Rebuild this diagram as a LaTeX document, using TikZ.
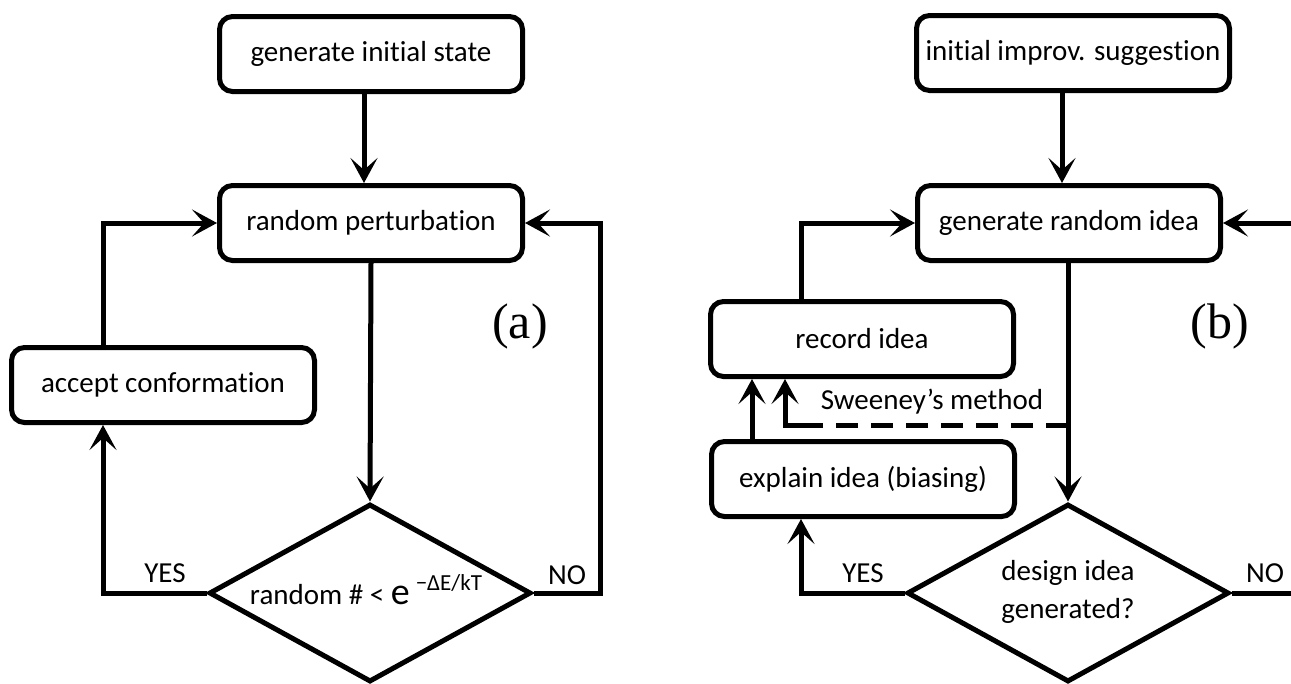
\documentclass[tikz,border=0pt]{standalone}
\usepackage{fontspec}
\setmainfont{Carlito}[Ligatures={NoCommon,NoRequired,NoContextual}, Contextuals=NoAlternate]
\newfontfamily\panelfont{Liberation Serif}
\usetikzlibrary{arrows.meta,shapes.geometric}

\begin{document}
\begin{tikzpicture}[x=1pt, y=-1pt,
  box/.style={draw, line width=5pt, rounded corners=13pt, minimum width=303pt,
    minimum height=75pt, inner sep=0pt, font=\fontsize{29}{35}\selectfont},
  decision/.style={draw, diamond, line width=5pt, minimum width=322pt,
    minimum height=178pt, inner sep=0pt},
  flow/.style={line width=5pt, -{Stealth[length=25pt, width=27pt, inset=12pt]}},
  tag/.style={font=\fontsize{29}{38}\selectfont},
  panel/.style={font=\panelfont\fontsize{50}{55}\selectfont}]
\path[use as bounding box, clip] (0,0) rectangle (1291,683);

% === Columns of the loops ===
\coordinate (aleft) at (103,0);
\coordinate (aright) at (600,0);
\coordinate (adown) at (364,0);
\coordinate (bleft) at (801,0);
\coordinate (bright) at (1298,0);
\coordinate (bdown) at (1062,0);
\coordinate (bexp) at (752,0);
\coordinate (bdash) at (785,0);

% === (a) simulated annealing ===
\node[box] (init) at (371,54) {generate initial state};
\node[box] (perturb) at (371,223) {random perturbation};
\node[box] (accept) at (163,385) {accept conformation};
\node[decision] (test) at (370,593) {};
\node[tag] (testtext) at (366,590) {random \# < {\fontsize{38}{40}\selectfont e}\hspace{6pt}\raisebox{14pt}{\fontsize{23}{24}\selectfont −ΔE/kT}};
\node[tag] (ayes) at (165,573) {YES};
\node[tag] (ano) at (567,575) {NO};
\node[panel] (alabel) at (520,326) {(a)};

\draw[flow] (init.south -| adown) -- (perturb.north -| adown);
\draw[flow] (perturb.south) -- (test.north);
\draw[flow] (test.west) -| (accept.south -| aleft);
\draw[flow] (accept.north -| aleft) |- (perturb.west);
\draw[flow] (test.east) -| (aright |- perturb.east) -- (perturb.east);

% === (b) design idea generation ===
\node[box, minimum width=313pt] (init2) at (1073,53) {initial improv. suggestion};
\node[box] (idea) at (1069,223) {generate random idea};
\node[box] (record) at (862,339) {record idea};
\node[box] (explain) at (863,479) {explain idea (biasing)};
\node[decision] (design) at (1068,593) {};
\node[tag, align=center] (designtext) at (1068,592) {design idea\\generated?};
\node[tag] (byes) at (863,573) {YES};
\node[tag] (bno) at (1265,573) {NO};
\node[tag] (sweeney) at (932,402) {Sweeney’s method};
\node[panel] (blabel) at (1220,326) {(b)};

\draw[flow] (init2.south -| bdown) -- (idea.north -| bdown);
\draw[flow] (idea.south -| design.north) -- (design.north);
\draw[flow] (design.west) -| (explain.south -| bleft);
\draw[flow] (explain.north -| bexp) -- (record.south -| bexp);
\draw[flow] (record.north -| bleft) |- (idea.west);
\draw[flow] (design.east) -| (bright |- idea.east) -- (idea.east);

% === Sweeney's short cut ===
\coordinate (split) at (1068,425);
\coordinate (sweep) at (bdash |- split);
\draw[line width=5pt, dash pattern=on 22pt off 13pt] (split) -- ([xshift=22pt]sweep);
\draw[flow] ([xshift=22pt]sweep) -- (sweep) -- (record.south -| sweep);
\end{tikzpicture}
\end{document}
